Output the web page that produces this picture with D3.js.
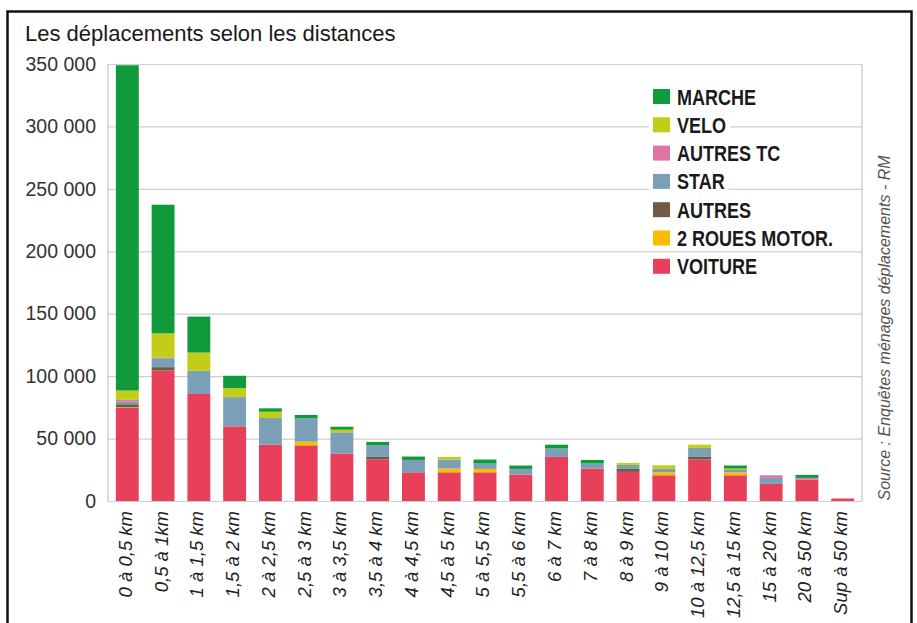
<!DOCTYPE html>
<html>
<head>
<meta charset="utf-8">
<script src="https://cdn.jsdelivr.net/npm/d3@7/dist/d3.min.js"></script>
<style>
  body { margin: 0; background: #fff; }
  text { font-family: "Liberation Sans", Arial, sans-serif; }
</style>
</head>
<body>
<div id="chart"></div>
<script>
// Categories
const distances = ['0 à 0,5 km', '0,5 à 1km', '1 à 1,5 km', '1,5 à 2 km', '2 à 2,5 km', '2,5 à 3 km',
  '3 à 3,5 km', '3,5 à 4 km', '4 à 4,5 km', '4,5 à 5 km', '5 à 5,5 km', '5,5 à 6 km', '6 à 7 km',
  '7 à 8 km', '8 à 9 km', '9 à 10 km', '10 à 12,5 km', '12,5 à 15 km', '15 à 20 km', '20 à 50 km', 'Sup à 50 km']

// Series (bottom to top)
const voiture = [74500, 104500, 85700, 59800, 45100, 44600, 38000, 33200, 23000, 23000, 23000, 21200, 35300, 26000, 23300, 20600, 33200, 20600, 13700, 17200, 2000]
const deuxRoues = [500, 0, 0, 0, 0, 3000, 0, 0, 0, 3000, 2700, 0, 0, 0, 0, 2500, 0, 2400, 0, 0, 0]
const autres = [2500, 2700, 0, 0, 0, 0, 0, 2100, 0, 0, 0, 0, 0, 0, 2400, 0, 2100, 0, 0, 0, 0]
const star = [2000, 7200, 18600, 23400, 21400, 18700, 17000, 9300, 9900, 7200, 4300, 4500, 6900, 4000, 3200, 2700, 7200, 1800, 4800, 0, 0]
const autresTC = [1500, 500, 0, 0, 0, 0, 0, 0, 0, 0, 0, 0, 0, 0, 0, 0, 0, 0, 2100, 1300, 0]
const velo = [7500, 19400, 14600, 7200, 5000, 0, 2100, 0, 0, 2100, 0, 0, 0, 0, 1600, 2800, 2600, 1200, 0, 0, 0]
const marche = [260500, 103000, 28800, 9900, 2700, 2600, 2400, 2700, 2700, 0, 3200, 2700, 2900, 2900, 0, 0, 0, 2400, 0, 2400, 0]

const yTicks = [0, 50000, 100000, 150000, 200000, 250000, 300000, 350000]

const series = [
  { name: 'VOITURE', values: voiture, color: '#e8405a' },
  { name: '2 ROUES MOTOR.', values: deuxRoues, color: '#f8bd00' },
  { name: 'AUTRES', values: autres, color: '#725b45' },
  { name: 'STAR', values: star, color: '#7a9fb6' },
  { name: 'AUTRES TC', values: autresTC, color: '#e074a4' },
  { name: 'VELO', values: velo, color: '#c3cc16' },
  { name: 'MARCHE', values: marche, color: '#0f9a3b' }
]

const width = 917,
  height = 623,
  plot = { left: 108, right: 862, top: 64, bottom: 501 }

const svg = d3.select('#chart')
  .append('svg')
  .attr('width', width)
  .attr('height', height)

// outer frame
svg.append('rect')
  .attr('x', 7.5)
  .attr('y', 11.5)
  .attr('width', 904)
  .attr('height', 640)
  .attr('fill', '#fff')
  .attr('stroke', '#111')
  .attr('stroke-width', 2.5)

svg.append('text')
  .attr('x', 25)
  .attr('y', 41)
  .attr('font-size', 22)
  .attr('fill', '#1a1a1a')
  .text('Les déplacements selon les distances')

const rows = distances.map((d, i) => {
  const row = { cat: d }
  series.forEach(s => { row[s.name] = s.values[i] })
  return row
})

const stacked = d3.stack().keys(series.map(s => s.name))(rows)

const xScale = d3.scaleBand()
  .domain(distances)
  .range([plot.left, plot.right])
  .paddingInner(0.36)
  .paddingOuter(0.22)

const yScale = d3.scaleLinear()
  .domain([0, 350000])
  .range([plot.bottom, plot.top])

const fr = d3.formatLocale({ decimal: ',', thousands: ' ', grouping: [3], currency: ['', '€'] })

// grid
const yAxis = d3.axisLeft(yScale)
  .tickValues(yTicks)
  .tickSize(plot.left - plot.right)
  .tickFormat(fr.format(','))

const gy = svg.append('g')
  .attr('transform', `translate(${plot.left},0)`)
  .call(yAxis)
gy.select('.domain').remove()
gy.selectAll('line').attr('stroke', '#cfcfcf').attr('stroke-width', 1.2)
gy.selectAll('text')
  .attr('x', -12)
  .attr('font-size', 19.5)
  .attr('fill', '#333')
  .attr('font-family', '"Liberation Sans", Arial, sans-serif')

svg.append('line')
  .attr('x1', plot.left).attr('x2', plot.left)
  .attr('y1', plot.top).attr('y2', plot.bottom)
  .attr('stroke', '#c4c4c4').attr('stroke-width', 1.2)
svg.append('line')
  .attr('x1', plot.right).attr('x2', plot.right)
  .attr('y1', plot.top).attr('y2', plot.bottom)
  .attr('stroke', '#c4c4c4').attr('stroke-width', 1.2)

// bars
svg.append('g')
  .selectAll('g')
  .data(stacked)
  .enter()
  .append('g')
  .attr('fill', (d, i) => series[i].color)
  .selectAll('rect')
  .data(d => d)
  .enter()
  .append('rect')
  .attr('x', d => xScale(d.data.cat))
  .attr('y', d => yScale(d[1]))
  .attr('width', xScale.bandwidth())
  .attr('height', d => yScale(d[0]) - yScale(d[1]))

// x labels
svg.append('g')
  .selectAll('text')
  .data(distances)
  .enter()
  .append('text')
  .attr('transform', d => `translate(${xScale(d) + xScale.bandwidth() / 2 - 2},511) rotate(-90)`)
  .attr('text-anchor', 'end')
  .attr('dy', '0.35em')
  .attr('font-size', 18.5)
  .attr('font-style', 'italic')
  .attr('fill', '#222')
  .text(d => d)

// legend
const squeeze = 0.82
const legendOrder = series.slice().reverse()
const legend = svg.append('g')
  .selectAll('g')
  .data(legendOrder)
  .enter()
  .append('g')
  .attr('transform', (d, i) => `translate(653,${89 + i * 28.3})`)

legend.append('rect')
  .attr('class', 'bg')
  .attr('x', -4)
  .attr('y', -3)
  .attr('height', 21)
  .attr('fill', '#fff')

legend.append('rect')
  .attr('width', 17)
  .attr('height', 15)
  .attr('fill', d => d.color)

legend.append('text')
  .attr('transform', `translate(24,15.5) scale(${squeeze},1)`)
  .attr('font-weight', 'bold')
  .attr('font-size', 22)
  .attr('fill', '#1a1a1a')
  .text(d => d.name)

legend.each(function () {
  const w = d3.select(this).select('text').node().getComputedTextLength() * squeeze
  d3.select(this).select('.bg').attr('width', w + 32)
})

// source
svg.append('text')
  .attr('transform', 'translate(884,328) rotate(-90)')
  .attr('text-anchor', 'middle')
  .attr('dy', '0.35em')
  .attr('font-size', 16)
  .attr('font-style', 'italic')
  .attr('fill', '#555')
  .text('Source : Enquêtes ménages déplacements - RM')
</script>
</body>
</html>
